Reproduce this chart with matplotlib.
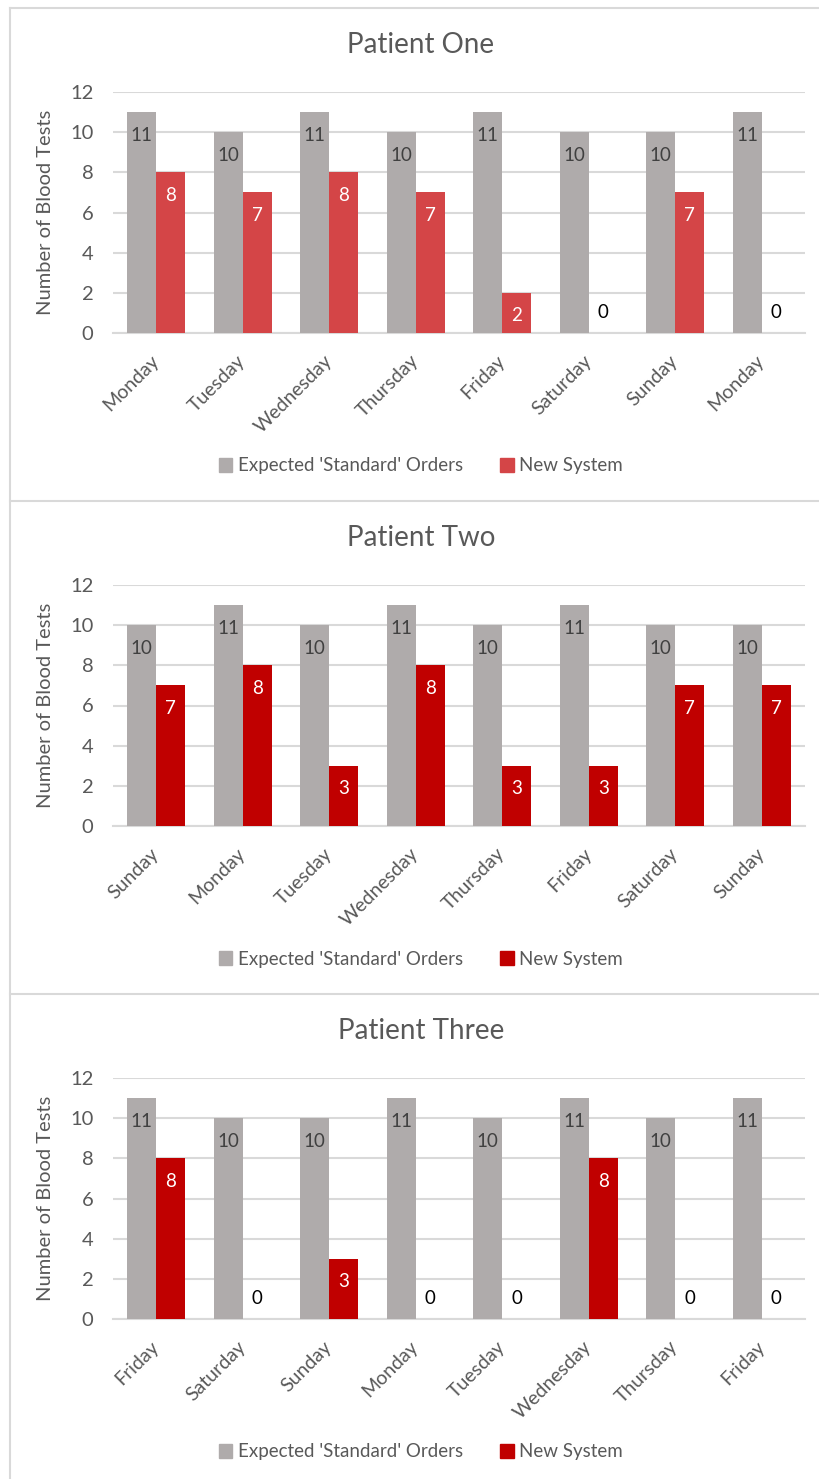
import matplotlib
matplotlib.use("Agg")
import matplotlib.pyplot as plt
import numpy as np
from matplotlib.lines import Line2D
from matplotlib.patches import Patch

plt.rcParams['font.family'] = ['Lato', 'DejaVu Sans']

# === Data
titles = ["Patient One", "Patient Two", "Patient Three"]
days_one = ["Monday", "Tuesday", "Wednesday", "Thursday", "Friday", "Saturday", "Sunday", "Monday"]
days_two = ["Sunday", "Monday", "Tuesday", "Wednesday", "Thursday", "Friday", "Saturday", "Sunday"]
days_three = ["Friday", "Saturday", "Sunday", "Monday", "Tuesday", "Wednesday", "Thursday", "Friday"]
expected_one = [11, 10, 11, 10, 11, 10, 10, 11]
expected_two = [10, 11, 10, 11, 10, 11, 10, 10]
expected_three = [11, 10, 10, 11, 10, 11, 10, 11]
new_one = [8, 7, 8, 7, 2, 0, 7, 0]
new_two = [7, 8, 3, 8, 3, 3, 7, 7]
new_three = [8, 0, 3, 0, 0, 8, 0, 0]
series_names = ["Expected 'Standard' Orders", "New System"]
yticks = [0, 2, 4, 6, 8, 10, 12]

panels = [
    (titles[0], days_one, expected_one, new_one, "#D44547"),
    (titles[1], days_two, expected_two, new_two, "#C00000"),
    (titles[2], days_three, expected_three, new_three, "#C00000"),
]

GRAY = "#AFABAB"
GRID = "#D9D9D9"
TXT = "#595959"

W, H = 819, 1479
fig = plt.figure(figsize=(W / 100, H / 100), dpi=100)

def fx(px):
    return px / W

def fy(py):
    return 1 - py / H

panel_h = 493
bar_w = 0.335

# panel frames: top lines / separators and left edge
for yy in [8, 8 + panel_h, 8 + 2 * panel_h]:
    fig.add_artist(Line2D([fx(10), 1.0], [fy(yy), fy(yy)], transform=fig.transFigure,
                          color=GRID, linewidth=1.5))
fig.add_artist(Line2D([fx(10), fx(10)], [fy(8), 0], transform=fig.transFigure,
                      color=GRID, linewidth=1.5))

for k, (title, days, expected, new, red) in enumerate(panels):
    top = 8 + k * panel_h
    y0 = top + 325
    ax = fig.add_axes([fx(113), fy(y0), fx(692), 241 / H])
    x = np.arange(len(days))
    b1 = ax.bar(x - bar_w / 2, expected, width=bar_w, color=GRAY, label=series_names[0], zorder=3)
    b2 = ax.bar(x + bar_w / 2, new, width=bar_w, color=red, label=series_names[1], zorder=3)

    for rect, v in zip(b1, expected):
        ax.annotate(str(v), (rect.get_x() + rect.get_width() / 2, v), xytext=(0, -23),
                    textcoords="offset pixels", ha="center", va="center",
                    fontsize=13.5, color="#404040", zorder=4)
    for rect, v in zip(b2, new):
        cx = rect.get_x() + rect.get_width() / 2
        if v == 0:
            ax.annotate("0", (cx, 0), xytext=(0, 21), textcoords="offset pixels",
                        ha="center", va="center", fontsize=13.5, color="black", zorder=4)
        else:
            ax.annotate(str(v), (cx, v), xytext=(0, -23), textcoords="offset pixels",
                        ha="center", va="center", fontsize=13.5, color="white", zorder=4)

    ax.set_xlim(-0.5, len(days) - 0.5)
    ax.set_ylim(0, 12)
    ax.set_yticks(yticks)
    ax.set_xticks(x)
    ax.set_xticklabels(days, rotation=45, ha="right", va="center", rotation_mode="anchor",
                       fontsize=14, color=TXT)
    ax.tick_params(axis="x", length=0, pad=18)
    ax.tick_params(axis="y", length=0, pad=14, labelsize=14.5, labelcolor=TXT)
    ax.grid(axis="y", color=GRID, linewidth=1.5, zorder=0)
    for s in ["top", "right", "left"]:
        ax.spines[s].set_visible(False)
    ax.spines["bottom"].set_color(GRID)
    ax.spines["bottom"].set_linewidth(1.5)
    ax.set_ylabel("Number of Blood Tests", fontsize=14.5, color=TXT)
    ax.yaxis.set_label_coords((54 - 113) / 692, 0.5)

    fig.text(fx(421), fy(top + 37), title, ha="center", va="center", fontsize=20, color=TXT)

    handles = [Patch(color=GRAY), Patch(color=red)]
    fig.legend(handles, series_names, loc="center", bbox_to_anchor=(fx(421), fy(top + 458)),
               ncol=2, frameon=False, fontsize=13.5, labelcolor=TXT, handlelength=0.7,
               handleheight=0.7, handletextpad=0.3, columnspacing=2.0)

fig.savefig("out.png", dpi=100, facecolor="white")
